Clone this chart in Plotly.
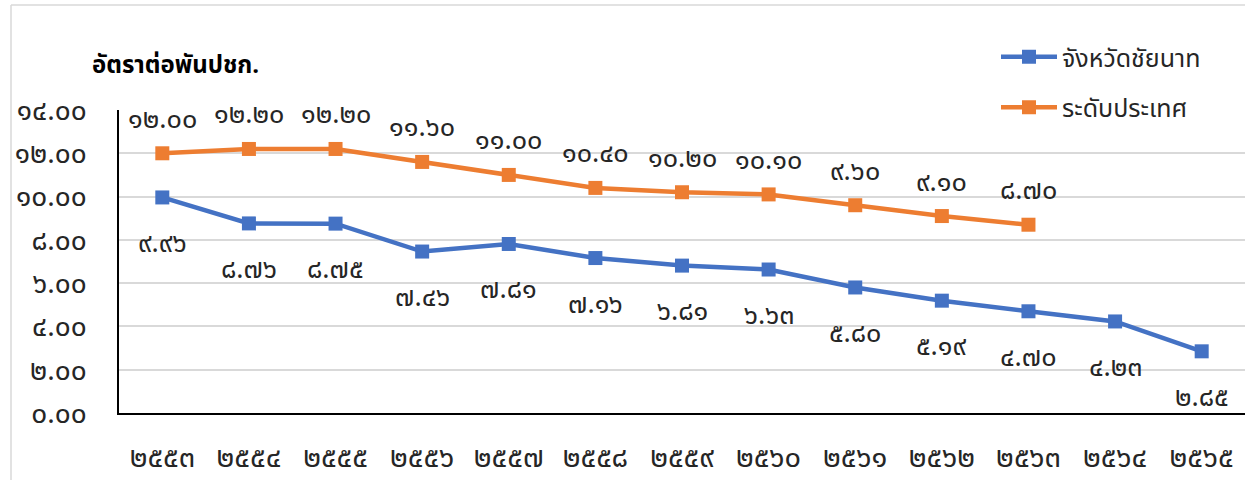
import plotly.graph_objects as go

years = ["๒๕๕๓", "๒๕๕๔", "๒๕๕๕", "๒๕๕๖", "๒๕๕๗", "๒๕๕๘", "๒๕๕๙",
         "๒๕๖๐", "๒๕๖๑", "๒๕๖๒", "๒๕๖๓", "๒๕๖๔", "๒๕๖๕"]
chainat = [9.96, 8.76, 8.75, 7.46, 7.81, 7.16, 6.81, 6.63, 5.80, 5.19, 4.70, 4.23, 2.85]
national = [12.00, 12.20, 12.20, 11.60, 11.00, 10.40, 10.20, 10.10, 9.60, 9.10, 8.70]
ytick_vals = [0, 2, 4, 6, 8, 10, 12, 14]
ytick_text = ["๐.๐๐", "๒.๐๐", "๔.๐๐", "๖.๐๐", "๘.๐๐", "๑๐.๐๐", "๑๒.๐๐", "๑๔.๐๐"]
name_chainat = "จังหวัดชัยนาท"
name_national = "ระดับประเทศ"
title_text = "อัตราต่อพันปชก."

THAI_DIGITS = str.maketrans("0123456789", "๐๑๒๓๔๕๖๗๘๙")


def thai(v):
    return f"{v:.2f}".translate(THAI_DIGITS)


FONT = "Tahoma, 'Noto Sans Thai', 'Leelawadee UI', 'DejaVu Sans', sans-serif"
BLUE = "#4472C4"
ORANGE = "#ED7D31"
LABEL_SIZE = 27

fig = go.Figure()
fig.add_trace(go.Scatter(
    x=list(range(len(chainat))), y=chainat, name=name_chainat,
    mode="lines+markers", legendgroup="a",
    line=dict(color=BLUE, width=4.5),
    marker=dict(symbol="square", size=14, color=BLUE),
))
fig.add_trace(go.Scatter(
    x=list(range(len(national))), y=national, name=name_national,
    mode="lines+markers", legendgroup="b",
    line=dict(color=ORANGE, width=4.5),
    marker=dict(symbol="square", size=14, color=ORANGE),
))

annotations = []
for i, v in enumerate(national):
    annotations.append(dict(x=i, y=v, xref="x", yref="y", text=thai(v),
                            showarrow=False, yshift=34,
                            font=dict(size=LABEL_SIZE, color="#262626", family=FONT)))
for i, v in enumerate(chainat):
    annotations.append(dict(x=i, y=v, xref="x", yref="y", text=thai(v),
                            showarrow=False, yshift=-46,
                            font=dict(size=LABEL_SIZE, color="#262626", family=FONT)))

# body margin is removed by post_script, so figure pixels == screen pixels
W, H = 1245, 480
L = 119
T = 110
B = H - 413
R = 0
pw = W - L - R
ph = H - T - B


def px_x(sx):
    return (sx - L) / pw


def px_y(sy):
    return (H - B - sy) / ph


annotations.append(dict(text=f"<b>{title_text}</b>", xref="paper", yref="paper",
                        x=px_x(90), y=px_y(66), xanchor="left", yanchor="middle",
                        showarrow=False, font=dict(size=24, color="#000000", family=FONT)))

shapes = [
    dict(type="line", xref="paper", yref="paper", x0=px_x(11), x1=px_x(11),
         y0=px_y(5), y1=px_y(495), line=dict(color="#d9d9d9", width=1.5)),
    dict(type="line", xref="paper", yref="paper", x0=px_x(11), x1=px_x(1260),
         y0=px_y(5), y1=px_y(5), line=dict(color="#d9d9d9", width=1.5)),
]

fig.update_layout(
    width=W, height=H,
    margin=dict(l=L, r=R, t=T, b=B, autoexpand=False),
    paper_bgcolor="white", plot_bgcolor="white",
    font=dict(family=FONT, color="#262626"),
    showlegend=True,
    legend=dict(x=px_x(996), y=px_y(34), xanchor="left", yanchor="top",
                font=dict(size=25, color="#262626", family=FONT),
                tracegroupgap=15, itemwidth=56, bgcolor="rgba(0,0,0,0)"),
    annotations=annotations,
    shapes=shapes,
)
fig.update_xaxes(
    range=[-0.5, 12.5], tickvals=list(range(len(years))), ticktext=years,
    showgrid=False, showline=True, linecolor="#000000", linewidth=1.5,
    ticks="", ticklabelstandoff=17,
    tickfont=dict(size=29, color="#262626", family=FONT), zeroline=False,
)
fig.update_yaxes(
    range=[0, 14], tickvals=ytick_vals, ticktext=ytick_text,
    showgrid=True, gridcolor="#d9d9d9", gridwidth=1.5,
    showline=True, linecolor="#000000", linewidth=1.5,
    ticks="", ticklabelstandoff=25, zeroline=False,
    tickfont=dict(size=28, color="#262626", family=FONT),
)

fig.write_html("out.html",
               config={"displayModeBar": False},
               post_script="document.body.style.margin='0';"
                           "document.body.style.overflow='hidden';")
